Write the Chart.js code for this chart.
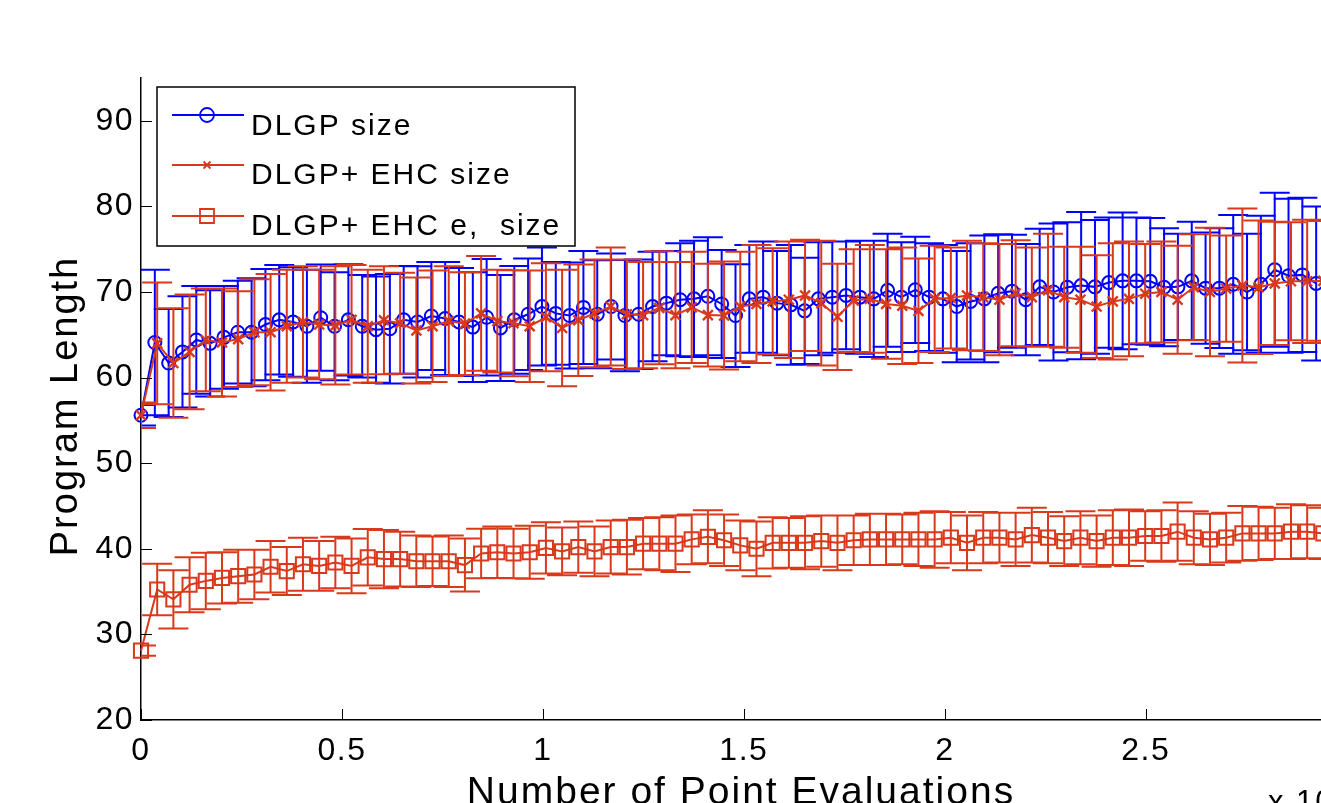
<!DOCTYPE html>
<html>
<head>
<meta charset="utf-8">
<script src="https://cdn.jsdelivr.net/npm/chart.js@4.4.1/dist/chart.umd.min.js"></script>
<style>
  body { margin: 0; background: #fff; }
  #wrap { width: 1321px; height: 803px; }
</style>
</head>
<body>
<div id="wrap"><canvas id="c" width="1321" height="803"></canvas></div>
<script>
// sample spacing on the x axis (axis is in units of x 10^n evaluations)
const dlgpStep = 0.0344;
const ehcStep = 0.0403;

// DLGP size (blue, circles)
const dlgpMean = [55.6, 64.1, 61.7, 63.0, 64.4, 64.0, 64.7, 65.3, 65.3, 66.2,
  66.75, 66.5, 66.0, 67.0, 66.0, 66.75, 66.0, 65.6, 65.7, 66.75,
  66.5, 67.2, 66.9, 66.5, 65.9, 67.05, 65.8, 66.75, 67.4, 68.3,
  67.5, 67.25, 68.2, 67.4, 68.3, 67.25, 67.4, 68.3, 68.7, 69.1,
  69.2, 69.5, 68.6, 67.25, 69.2, 69.4, 68.7, 68.5, 67.8, 69.2,
  69.4, 69.6, 69.4, 69.2, 70.2, 69.4, 70.25, 69.4, 69.2, 68.3,
  68.9, 69.2, 69.85, 70.1, 69.1, 70.6, 70.0, 70.55, 70.75, 70.6,
  71.1, 71.3, 71.3, 71.25, 70.55, 70.6, 71.3, 70.45, 70.45, 70.9,
  70.0, 70.9, 72.6, 71.9, 72.0, 71.0];
const dlgpErr = [1.2, 8.5, 6.3, 6.5, 6.3, 6.2, 6.0, 6.0, 6.3, 6.5,
  6.4, 6.4, 6.6, 6.2, 6.3, 6.5, 6.0, 6.2, 6.4, 6.3,
  6.5, 6.3, 6.6, 6.3, 6.4, 6.8, 6.2, 6.3, 6.5, 6.9,
  6.0, 6.2, 6.6, 6.3, 6.2, 6.5, 6.4, 6.4, 6.1, 6.6,
  6.8, 6.9, 6.3, 6.0, 6.3, 6.5, 6.1, 7.0, 6.2, 6.6,
  6.5, 6.3, 6.6, 6.8, 6.6, 6.4, 6.2, 6.3, 6.3, 6.5,
  6.8, 7.4, 6.9, 6.6, 6.5, 6.8, 8.0, 7.6, 8.6, 7.8,
  7.6, 8.0, 7.4, 7.4, 6.9, 6.2, 6.9, 6.5, 7.0, 8.1,
  6.8, 8.0, 9.0, 9.0, 9.0, 9.0];

// DLGP+ EHC size (red, x marks)
const ehcMean = [55.6, 64.0, 61.7, 63.0, 64.4, 64.1, 64.5, 65.3, 65.3, 66.0,
  66.5, 66.2, 66.1, 66.75, 66.0, 66.7, 66.35, 65.5, 66.0, 66.6,
  66.3, 67.5, 66.6, 66.35, 66.0, 67.05, 65.8, 66.7, 67.5, 68.3,
  67.4, 67.3, 68.15, 67.3, 68.2, 67.3, 67.25, 68.3, 68.6, 68.9,
  69.1, 69.6, 68.7, 67.1, 69.0, 69.2, 68.6, 68.4, 67.8, 69.2,
  69.3, 69.6, 69.4, 69.1, 69.85, 69.4, 70.2, 69.4, 69.1, 68.3,
  68.9, 69.2, 69.8, 70.0, 69.1, 70.55, 70.0, 70.4, 70.75, 70.55,
  71.0, 71.25, 71.25, 71.3, 71.0];
const ehcErr = [1.5, 7.1, 6.4, 6.7, 6.0, 6.3, 5.6, 6.2, 6.8, 6.6,
  6.5, 6.4, 6.9, 6.4, 6.6, 6.3, 5.9, 6.2, 6.5, 6.4,
  6.0, 6.7, 6.0, 6.2, 6.5, 6.3, 6.8, 6.5, 6.3, 6.9,
  6.4, 6.2, 6.6, 6.2, 6.5, 6.0, 6.3, 6.4, 6.9, 6.2,
  6.8, 6.5, 7.3, 6.2, 6.0, 6.3, 6.4, 6.8, 6.1, 6.2,
  5.9, 6.4, 6.3, 6.5, 6.2, 5.8, 6.6, 5.9, 6.2, 6.0,
  6.8, 6.7, 5.8, 5.9, 6.3, 6.2, 7.5, 6.2, 9.0, 7.8,
  7.2, 6.9, 7.2, 7.0, 6.8];

// DLGP+ EHC e, size (red, squares)
const ehcEMean = [28.1, 35.25, 34.1, 35.8, 36.25, 36.6, 36.8, 37.0, 37.9, 37.4,
  38.2, 38.0, 38.4, 38.0, 39.0, 38.8, 38.8, 38.55, 38.55, 38.55,
  38.1, 39.45, 39.6, 39.45, 39.6, 40.1, 39.7, 40.2, 39.7, 40.2,
  40.2, 40.6, 40.6, 40.6, 41.1, 41.4, 41.0, 40.4, 40.0, 40.7,
  40.7, 40.7, 40.9, 40.7, 41.0, 41.1, 41.1, 41.1, 41.1, 41.1,
  41.3, 40.7, 41.3, 41.3, 41.1, 41.6, 41.3, 40.9, 41.3, 40.9,
  41.3, 41.3, 41.5, 41.5, 42.0, 41.3, 41.1, 41.3, 41.8, 41.8,
  41.8, 42.0, 42.0, 41.8, 41.9];
const ehcEErr = [0.6, 3.0, 3.4, 3.2, 3.3, 3.0, 3.1, 2.9, 3.0, 2.8,
  3.1, 2.9, 3.0, 3.2, 3.3, 3.4, 3.2, 3.0, 2.9, 3.0,
  3.1, 2.9, 3.0, 2.9, 3.1, 3.0, 2.8, 3.0, 2.9, 3.1,
  3.2, 3.0, 3.1, 3.3, 2.9, 3.1, 3.0, 2.9, 3.2, 3.0,
  2.9, 3.1, 3.0, 3.2, 2.9, 3.0, 3.0, 2.9, 3.1, 3.3,
  3.0, 3.2, 3.0, 2.9, 3.1, 3.2, 3.0, 2.9, 3.1, 3.0,
  3.2, 3.3, 2.9, 3.0, 3.4, 3.1, 3.0, 2.9, 3.2, 3.1,
  3.0, 3.2, 3.1, 3.0, 3.0];

const seriesNames = ['DLGP size', 'DLGP+ EHC size', 'DLGP+ EHC e,  size'];
const yTickValues = [20, 30, 40, 50, 60, 70, 80, 90];
const xTickValues = [0, 0.5, 1, 1.5, 2, 2.5];

const BLUE = '#0000ff';
const RED = '#d9381a';
const FONT = '"Liberation Sans", Arial, Helvetica, sans-serif';

const pts = (means, step) => means.map((v, i) => ({ x: i * step, y: v }));

// error bars drawn under each series, clipped to the axes like matlab
const errBars = {
  id: 'errBars',
  beforeDatasetDraw(chart, args) {
    const ds = chart.data.datasets[args.index];
    if (!ds.err) return;
    const { ctx, chartArea: a, scales: { x, y } } = chart;
    const cap = 15;
    ctx.save();
    ctx.beginPath();
    ctx.rect(a.left, a.top, a.right - a.left, a.bottom - a.top);
    ctx.clip();
    ctx.strokeStyle = ds.borderColor;
    ctx.lineWidth = 2;
    ctx.beginPath();
    ds.data.forEach((p, i) => {
      const px = x.getPixelForValue(p.x);
      const top = y.getPixelForValue(p.y + ds.err[i]);
      const bot = y.getPixelForValue(p.y - ds.err[i]);
      ctx.moveTo(px, top); ctx.lineTo(px, bot);
      ctx.moveTo(px - cap, top); ctx.lineTo(px + cap, top);
      ctx.moveTo(px - cap, bot); ctx.lineTo(px + cap, bot);
    });
    ctx.stroke();
    ctx.restore();
  }
};

function marker(ctx, style, x, y) {
  ctx.beginPath();
  if (style === 'circle') {
    ctx.arc(x, y, 7, 0, Math.PI * 2);
  } else if (style === 'rect') {
    ctx.rect(x - 7, y - 7, 14, 14);
  } else {
    ctx.moveTo(x - 3.5, y - 3.5); ctx.lineTo(x + 3.5, y + 3.5);
    ctx.moveTo(x + 3.5, y - 3.5); ctx.lineTo(x - 3.5, y + 3.5);
  }
  ctx.stroke();
}

// inward ticks, axis titles, legend box
const decor = {
  id: 'decor',
  beforeDraw(chart) {
    chart.ctx.letterSpacing = '1.5px';
  },
  afterDatasetsDraw(chart) {
    const { ctx, chartArea: a, scales: { x, y } } = chart;
    ctx.save();
    ctx.strokeStyle = '#000';
    ctx.lineWidth = 1;
    ctx.beginPath();
    y.ticks.forEach(t => {
      const py = Math.round(y.getPixelForValue(t.value)) + 0.5;
      ctx.moveTo(a.left, py); ctx.lineTo(a.left + 11, py);
    });
    x.ticks.forEach(t => {
      const px = Math.round(x.getPixelForValue(t.value)) + 0.5;
      ctx.moveTo(px, a.bottom); ctx.lineTo(px, a.bottom - 11);
    });
    ctx.stroke();
    ctx.restore();
  },
  afterDraw(chart) {
    const { ctx } = chart;
    ctx.save();
    ctx.letterSpacing = '2px';
    ctx.fillStyle = '#000';

    // y title
    ctx.save();
    ctx.translate(67, 406);
    ctx.rotate(-Math.PI / 2);
    ctx.font = '38px ' + FONT;
    ctx.textAlign = 'center';
    ctx.textBaseline = 'middle';
    ctx.fillText('Program Length', 0, 0);
    ctx.restore();

    // x title (cut by the bottom edge)
    ctx.font = '39px ' + FONT;
    ctx.textAlign = 'center';
    ctx.textBaseline = 'alphabetic';
    ctx.fillText('Number of Point Evaluations', 741, 804);

    // exponent label, mostly off the page
    ctx.font = '31px ' + FONT;
    ctx.textAlign = 'left';
    ctx.fillText('x 10', 1268, 812);

    // legend
    const bx = 157, by = 87, bw = 418, bh = 159;
    ctx.fillStyle = '#fff';
    ctx.fillRect(bx, by, bw, bh);
    ctx.strokeStyle = '#000';
    ctx.lineWidth = 1.5;
    ctx.strokeRect(bx, by, bw, bh);
    const rows = [115, 165, 216];
    const base = [135, 184, 235];
    chart.data.datasets.forEach((ds, i) => {
      ctx.strokeStyle = ds.borderColor;
      ctx.lineWidth = 1.8;
      ctx.beginPath();
      ctx.moveTo(172, rows[i]); ctx.lineTo(244, rows[i]);
      ctx.stroke();
      marker(ctx, ds.pointStyle, 207, rows[i]);
      ctx.fillStyle = '#000';
      ctx.font = '30px ' + FONT;
      ctx.textAlign = 'left';
      ctx.fillText(seriesNames[i], 251, base[i]);
    });
    ctx.restore();
  }
};

new Chart(document.getElementById('c'), {
  type: 'line',
  data: {
    datasets: [
      {
        label: seriesNames[0], data: pts(dlgpMean, dlgpStep), err: dlgpErr,
        borderColor: BLUE, borderWidth: 2, pointStyle: 'circle', pointRadius: 6.5,
        pointBorderWidth: 2, pointBackgroundColor: 'rgba(0,0,0,0)', order: 2
      },
      {
        label: seriesNames[1], data: pts(ehcMean, ehcStep), err: ehcErr,
        borderColor: RED, borderWidth: 2, pointStyle: 'crossRot', pointRadius: 7,
        pointBorderWidth: 2.4, pointBackgroundColor: 'rgba(0,0,0,0)', order: 1
      },
      {
        label: seriesNames[2], data: pts(ehcEMean, ehcStep), err: ehcEErr,
        borderColor: RED, borderWidth: 2, pointStyle: 'rect', pointRadius: 10,
        pointBorderWidth: 2, pointBackgroundColor: 'rgba(0,0,0,0)', order: 0
      }
    ]
  },
  options: {
    responsive: false,
    animation: false,
    events: [],
    clip: false,
    layout: { autoPadding: false, padding: { top: 78, left: 0, right: 0, bottom: 0 } },
    plugins: { legend: { display: false }, tooltip: { enabled: false } },
    scales: {
      x: {
        type: 'linear', min: 0, max: 2.936,
        afterFit: s => { s.height = 83; },
        afterBuildTicks: s => { s.ticks = xTickValues.map(v => ({ value: v })); },
        grid: { display: false, drawTicks: false },
        border: { display: true, color: '#000', width: 1.5 },
        ticks: { color: '#000', padding: 12, autoSkip: false, maxRotation: 0,
          callback: v => String(v),
          font: { family: FONT, size: 32 } }
      },
      y: {
        min: 20, max: 95,
        afterFit: s => { s.width = 141; },
        afterBuildTicks: s => { s.ticks = yTickValues.map(v => ({ value: v })); },
        grid: { display: false, drawTicks: false },
        border: { display: true, color: '#000', width: 1.5 },
        ticks: { color: '#000', padding: 7, autoSkip: false,
          callback: v => String(v),
          font: { family: FONT, size: 32 } }
      }
    }
  },
  plugins: [errBars, decor]
});
</script>
</body>
</html>
